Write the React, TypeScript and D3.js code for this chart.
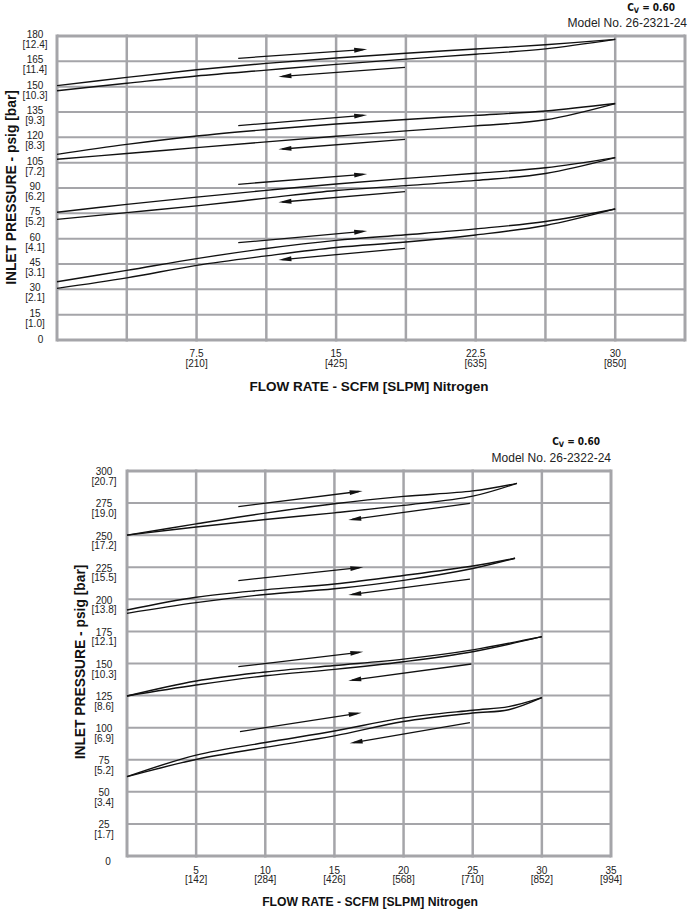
import React from 'react';
import * as d3 from 'd3';

// ---------- Chart 1 (Model 26-2321-24) ----------
const c1GridX = [0, 3.75, 7.5, 11.25, 15, 18.75, 22.5, 26.25, 30, 33.75];
const c1GridY = [0, 15, 30, 45, 60, 75, 90, 105, 120, 135, 150, 165, 180];
const c1TickX = [7.5, 15, 22.5, 30];
const c1TickXSub = ['[210]', '[425]', '[635]', '[850]'];
const c1TickY = [180, 165, 150, 135, 120, 105, 90, 75, 60, 45, 30, 15];
const c1TickYSub = ['[12.4]', '[11.4]', '[10.3]', '[9.3]', '[8.3]', '[7.2]', '[6.2]', '[5.2]', '[4.1]', '[3.1]', '[2.1]', '[1.0]'];
const c1X = [0, 3.75, 7.5, 11.25, 15, 18.75, 22.5, 26.25, 30];
const c1Up1 = [150.6, 155.5, 160, 163.8, 167, 169.8, 172.3, 174.8, 178];
const c1Dn1 = [147.6, 152, 156.3, 159.8, 163.2, 166.3, 169.2, 172.4, 178];
const c1Up2 = [109.9, 115.8, 120.8, 124.6, 127.9, 130.6, 133, 135.6, 140];
const c1Dn2 = [107, 110.4, 113.9, 117.3, 120.6, 123.8, 126.8, 130.4, 140];
const c1Up3 = [75.6, 80.3, 84.6, 88.6, 92.4, 95.7, 98.7, 102, 108];
const c1Dn3 = [71.4, 75.4, 79.4, 84, 88.5, 91.4, 94.5, 98.6, 108];
const c1Up4 = [34.5, 41.2, 48.2, 54.2, 59, 62.3, 65.8, 70.2, 77.6];
const c1Dn4 = [30.6, 36.8, 44.2, 49.8, 54.8, 58, 62.2, 67.8, 77.6];
// arrows: [x start, y start, x tip, y tip]
const c1Arrows = [
  [9.74, 166.8, 16.67, 172.1], [18.7, 161.4, 11.9, 155.9],
  [9.74, 126.9, 16.67, 133.2], [18.7, 118.8, 11.9, 112.9],
  [9.74, 92.2, 16.67, 98.3], [18.7, 87.8, 11.9, 81.5],
  [9.74, 57.6, 16.67, 64.5], [18.7, 54.3, 11.9, 47.4],
];

// ---------- Chart 2 (Model 26-2322-24) ----------
const c2GridX = [0, 5, 10, 15, 20, 25, 30, 35];
const c2GridY = [0, 25, 50, 75, 100, 125, 150, 175, 200, 225, 250, 275, 300];
const c2TickX = [5, 10, 15, 20, 25, 30, 35];
const c2TickXSub = ['[142]', '[284]', '[426]', '[568]', '[710]', '[852]', '[994]'];
const c2TickY = [300, 275, 250, 225, 200, 175, 150, 125, 100, 75, 50, 25];
const c2TickYSub = ['[20.7]', '[19.0]', '[17.2]', '[15.5]', '[13.8]', '[12.1]', '[10.3]', '[8.6]', '[6.9]', '[5.2]', '[3.4]', '[1.7]'];
const c2X1 = [0, 5, 10, 15, 20, 25, 28.2];
const c2Up1 = [250, 258.8, 267.2, 274.5, 280.2, 284.5, 290.4];
const c2Dn1 = [250, 256.4, 262.2, 267.4, 273.2, 280.4, 290.4];
const c2X2 = [0, 5, 10, 15, 20, 25, 28.06];
const c2Up2 = [191.7, 201.6, 207.4, 212, 218.6, 226, 232];
const c2Dn2 = [189.1, 197.4, 203.8, 208.2, 214.8, 224, 232];
const c2X3 = [0, 5, 10, 15, 20, 25, 30];
const c2Up3 = [124.7, 136.4, 143.4, 148.4, 153.4, 160.6, 170.9];
const c2Dn3 = [124.7, 133.2, 140.4, 145.4, 151.4, 159.2, 170.9];
const c2X4 = [0, 5, 10, 15, 20, 25, 27.6, 30];
const c2Up4 = [61.8, 78.6, 88.4, 97.4, 107.6, 113.6, 116.4, 123.4];
const c2Dn4 = [61.8, 75.2, 84.6, 93.6, 104.8, 111.4, 114, 123.4];
const c2Arrows = [
  [8.05, 272.2, 17.04, 284.4], [24.8, 274.8, 16.0, 261.8],
  [8.05, 214.6, 17.09, 225], [24.8, 215.8, 16.0, 203.4],
  [8.05, 147.5, 17.09, 159.1], [24.9, 149.6, 16.0, 136.6],
  [8.17, 96.9, 16.97, 111.7], [24.8, 103.9, 16.1, 87.8],
];

const GRID = '#a5a5a9';
const FONT = '"Liberation Sans", Arial, sans-serif';

type Cfg = {
  x: d3.ScaleLinear<number, number>;
  y: d3.ScaleLinear<number, number>;
  gridX: number[];
  gridY: number[];
  tickX: number[];
  tickXSub: string[];
  tickY: number[];
  tickYSub: string[];
  series: { xs: number[]; ys: number[] }[];
  arrows: number[][];
  labelX: number;
  numDy: number;
  subDy: number;
  zeroX: number;
  zeroDy: number;
  xNumY: number;
  xSubY: number;
  xTitleX: number;
  xTitleY: number;
  xTitleSize: number;
  yTitleX: number;
  yTitleY: number;
  cvX: number;
  cvY: number;
  modelX: number;
  modelY: number;
  model: string;
};

function Chart({ c }: { c: Cfg }) {
  const [x0, x1] = c.x.range();
  const [y0, y1] = c.y.range();
  const line = d3
    .line<[number, number]>()
    .x((d) => c.x(d[0]))
    .y((d) => c.y(d[1]))
    .curve(d3.curveCatmullRom.alpha(0.5));
  return (
    <g>
      {c.gridY.map((v, i) => (
        <line key={'gy' + i} x1={x0} x2={x1} y1={c.y(v)} y2={c.y(v)} stroke={GRID}
          strokeWidth={i === 0 || i === c.gridY.length - 1 ? 3 : 2} />
      ))}
      {c.gridX.map((v, i) => (
        <line key={'gx' + i} x1={c.x(v)} x2={c.x(v)} y1={y0 + 1.5} y2={y1 - 1.5} stroke={GRID}
          strokeWidth={i === 0 || i === c.gridX.length - 1 ? 3 : 2.5} />
      ))}
      {c.series.map((s, i) => (
        <path key={'s' + i} d={line(s.xs.map((xv, j) => [xv, s.ys[j]] as [number, number])) || ''}
          fill="none" stroke="#111" strokeWidth={1.4} />
      ))}
      {c.arrows.map((a, i) => {
        const sx = c.x(a[0]), sy = c.y(a[1]), tx = c.x(a[2]), ty = c.y(a[3]);
        const dx = tx - sx, dy = ty - sy;
        const len = Math.hypot(dx, dy);
        const ux = dx / len, uy = dy / len;
        const L = 13, W = 2.4;
        const bx = tx - ux * L, by = ty - uy * L;
        return (
          <g key={'a' + i}>
            <line x1={sx} y1={sy} x2={tx - ux * 4} y2={ty - uy * 4} stroke="#111" strokeWidth={1.3} />
            <polygon points={`${tx},${ty} ${bx - uy * W},${by + ux * W} ${bx + uy * W},${by - ux * W}`} fill="#111" />
          </g>
        );
      })}
      {c.tickY.map((v, i) => (
        <g key={'ty' + i} fontFamily={FONT} fontSize={10} fill="#222" textAnchor="middle">
          <text x={c.labelX} y={c.y(v) + c.numDy}>{v}</text>
          <text x={c.labelX} y={c.y(v) + c.subDy}>{c.tickYSub[i]}</text>
        </g>
      ))}
      <text x={c.zeroX} y={c.y(0) + c.zeroDy} fontFamily={FONT} fontSize={10} fill="#222" textAnchor="middle">0</text>
      {c.tickX.map((v, i) => (
        <g key={'tx' + i} fontFamily={FONT} fontSize={10} fill="#222" textAnchor="middle">
          <text x={c.x(v)} y={c.xNumY}>{v}</text>
          <text x={c.x(v)} y={c.xSubY}>{c.tickXSub[i]}</text>
        </g>
      ))}
      <text x={c.xTitleX} y={c.xTitleY} fontFamily={FONT} fontWeight="bold" fontSize={c.xTitleSize}
        fill="#111" textAnchor="middle">FLOW RATE - SCFM [SLPM] Nitrogen</text>
      <text transform={`translate(${c.yTitleX},${c.yTitleY}) rotate(-90)`} fontFamily={FONT} fontWeight="bold"
        fontSize={13.8} fill="#111" textAnchor="middle">INLET PRESSURE - psig [bar]</text>
      <text x={c.cvX} y={c.cvY} fontFamily='"DejaVu Sans Condensed", "DejaVu Sans", sans-serif' fontWeight="bold"
        fontSize={10} fill="#111" textAnchor="end">
        C<tspan fontSize={7.5} dy={2}>V</tspan><tspan dy={-2}> = 0.60</tspan>
      </text>
      <text x={c.modelX} y={c.modelY} fontFamily={FONT} fontSize={12} fill="#222" textAnchor="end">{c.model}</text>
    </g>
  );
}

export default function App() {
  const cfg1: Cfg = {
    x: d3.scaleLinear().domain([0, 33.75]).range([57, 685]),
    y: d3.scaleLinear().domain([0, 180]).range([340, 36]),
    gridX: c1GridX, gridY: c1GridY, tickX: c1TickX, tickXSub: c1TickXSub,
    tickY: c1TickY, tickYSub: c1TickYSub,
    series: [
      { xs: c1X, ys: c1Up1 }, { xs: c1X, ys: c1Dn1 },
      { xs: c1X, ys: c1Up2 }, { xs: c1X, ys: c1Dn2 },
      { xs: c1X, ys: c1Up3 }, { xs: c1X, ys: c1Dn3 },
      { xs: c1X, ys: c1Up4 }, { xs: c1X, ys: c1Dn4 },
    ],
    arrows: c1Arrows,
    labelX: 35, numDy: 2, subDy: 12, zeroX: 40.5, zeroDy: 3,
    xNumY: 356.8, xSubY: 367, xTitleX: 369, xTitleY: 391, xTitleSize: 13.5,
    yTitleX: 16, yTitleY: 187.5,
    cvX: 675, cvY: 10.5, modelX: 687, modelY: 27.3, model: 'Model No. 26-2321-24',
  };
  const cfg2: Cfg = {
    x: d3.scaleLinear().domain([0, 35]).range([127, 611]),
    y: d3.scaleLinear().domain([0, 300]).range([856, 471]),
    gridX: c2GridX, gridY: c2GridY, tickX: c2TickX, tickXSub: c2TickXSub,
    tickY: c2TickY, tickYSub: c2TickYSub,
    series: [
      { xs: c2X1, ys: c2Up1 }, { xs: c2X1, ys: c2Dn1 },
      { xs: c2X2, ys: c2Up2 }, { xs: c2X2, ys: c2Dn2 },
      { xs: c2X3, ys: c2Up3 }, { xs: c2X3, ys: c2Dn3 },
      { xs: c2X4, ys: c2Up4 }, { xs: c2X4, ys: c2Dn4 },
    ],
    arrows: c2Arrows,
    labelX: 104, numDy: 4.4, subDy: 14, zeroX: 108, zeroDy: 8.6,
    xNumY: 873.6, xSubY: 883, xTitleX: 370, xTitleY: 906, xTitleSize: 12.2,
    yTitleX: 85, yTitleY: 662,
    cvX: 600, cvY: 445, modelX: 611, modelY: 462, model: 'Model No. 26-2322-24',
  };
  return (
    <svg width={697} height={913} style={{ position: 'absolute', left: 0, top: 0, background: '#fff' }}>
      <rect width={697} height={913} fill="#fff" />
      <Chart c={cfg1} />
      <Chart c={cfg2} />
    </svg>
  );
}
